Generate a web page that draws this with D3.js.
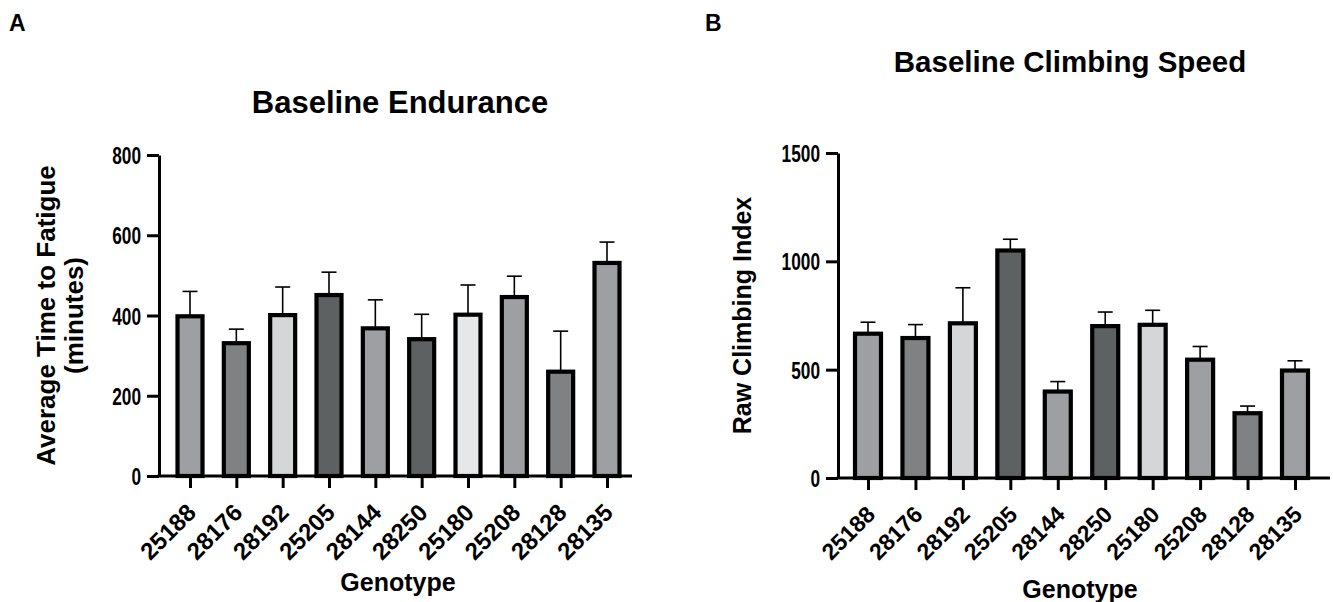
<!DOCTYPE html>
<html>
<head>
<meta charset="utf-8">
<script src="https://cdn.jsdelivr.net/npm/d3@7"></script>
<style>
	body { margin: 0; background: #fff; }
	svg text { font-family: "Liberation Sans", Arial, sans-serif; font-weight: bold; fill: #000; }
</style>
</head>
<body>
<div id="chart"></div>
<script>
// genotypes, same order in both panels
var genotypes = ["25188", "28176", "28192", "25205", "28144", "28250", "25180", "25208", "28128", "28135"];

// panel A: average time to fatigue (minutes), mean and upper error end
var endurance_mean = [398, 331, 401, 451, 368, 341, 402, 446, 260, 531];
var endurance_err = [460, 366, 471, 508, 439, 403, 476, 498, 361, 583];
var endurance_ticks = [0, 200, 400, 600, 800];

// panel B: raw climbing index
var climbing_mean = [666, 646, 714, 1050, 399, 701, 707, 546, 299, 496];
var climbing_err = [719, 708, 878, 1102, 445, 766, 774, 607, 332, 541];
var climbing_ticks = [0, 500, 1000, 1500];

// bar fills
var fills_a = ["#9d9fa2", "#7f8182", "#d4d6d7", "#5e6162", "#9d9fa2", "#5e6162", "#e5e7e8", "#9d9fa2", "#7f8182", "#9d9fa2"];
var fills_b = ["#9d9fa2", "#7f8182", "#d4d6d7", "#5e6162", "#9d9fa2", "#5e6162", "#d4d6d7", "#9d9fa2", "#7f8182", "#9d9fa2"];

var svg = d3.select("#chart").append("svg")
	.attr("width", 1333)
	.attr("height", 602);

function panel(opt) {
	var g = svg.append("g");

	var x = d3.scalePoint()
		.domain(genotypes)
		.range([opt.firstX, opt.lastX]);

	var y = d3.scaleLinear()
		.domain([0, opt.max])
		.range([opt.zeroY, opt.topY]);

	var data = genotypes.map(function (d, i) {
		return { g: d, mean: opt.mean[i], err: opt.err[i], fill: opt.fills[i] };
	});

	// error bars (upper only)
	var eb = g.append("g");
	eb.selectAll("line.stem")
		.data(data).enter().append("line")
		.attr("x1", function (d) { return x(d.g); })
		.attr("x2", function (d) { return x(d.g); })
		.attr("y1", function (d) { return y(d.mean); })
		.attr("y2", function (d) { return y(d.err); })
		.attr("stroke", "#000").attr("stroke-width", 1.6);
	eb.selectAll("line.cap")
		.data(data).enter().append("line")
		.attr("x1", function (d) { return x(d.g) - 7.5; })
		.attr("x2", function (d) { return x(d.g) + 7.5; })
		.attr("y1", function (d) { return y(d.err); })
		.attr("y2", function (d) { return y(d.err); })
		.attr("stroke", "#000").attr("stroke-width", 1.6);

	// bars
	g.append("g").selectAll("rect")
		.data(data).enter().append("rect")
		.attr("x", function (d) { return x(d.g) - opt.barW / 2; })
		.attr("width", opt.barW)
		.attr("y", function (d) { return y(d.mean); })
		.attr("height", function (d) { return y(0) - y(d.mean); })
		.attr("fill", function (d) { return d.fill; })
		.attr("stroke", "#000")
		.attr("stroke-width", 4.2);

	// y axis, tick numbers are narrow and tall in the original
	var ya = g.append("g")
		.attr("transform", "translate(" + opt.axisX + ",0)")
		.call(d3.axisLeft(y).tickValues(opt.ticks).tickSize(12).tickSizeOuter(0).tickFormat(d3.format("d")));
	ya.select(".domain").attr("stroke-width", 3);
	ya.selectAll(".tick line").attr("stroke-width", 3);
	ya.selectAll(".tick text")
		.style("font-size", opt.tickFont + "px")
		.attr("x", 0).attr("dy", "0.36em")
		.attr("transform", "translate(-18,0) scale(0.72,1)");

	// x axis
	var xa = g.append("g")
		.attr("transform", "translate(0," + opt.zeroY + ")")
		.call(d3.axisBottom(x).tickSize(12).tickSizeOuter(0));
	xa.select(".domain").remove();
	xa.append("line")
		.attr("x1", opt.axisX - 1.5).attr("x2", opt.axisEnd)
		.attr("stroke", "#000").attr("stroke-width", 3);
	xa.selectAll(".tick line").attr("stroke-width", 3);
	xa.selectAll(".tick text")
		.style("font-size", opt.xFont + "px")
		.attr("text-anchor", "end")
		.attr("x", 0).attr("y", 0).attr("dy", "0")
		.attr("transform", "translate(" + opt.xLabOff[0] + "," + opt.xLabOff[1] + ") rotate(-45)");

	// titles
	g.append("text")
		.attr("x", opt.titleX).attr("y", opt.titleY)
		.attr("text-anchor", "middle")
		.style("font-size", opt.titleFont + "px")
		.text(opt.title);

	g.append("text")
		.attr("x", opt.genoX).attr("y", opt.genoY)
		.attr("text-anchor", "middle")
		.style("font-size", "25px")
		.text("Genotype");

	var yl = g.append("text")
		.attr("transform", "translate(" + opt.ylabX + "," + (opt.zeroY + opt.topY) / 2 + ") rotate(-90)")
		.attr("text-anchor", "middle")
		.style("font-size", opt.ylabFont + "px");
	opt.ylab.forEach(function (t, i) {
		yl.append("tspan").attr("x", 0).attr("dy", i === 0 ? 0 : "1.06em").text(t);
	});

	g.append("text")
		.attr("x", opt.letterX).attr("y", 31)
		.style("font-size", "23px")
		.text(opt.letter);
}

panel({
	letter: "A", letterX: 9,
	title: "Baseline Endurance", titleX: 400, titleY: 113, titleFont: 31,
	mean: endurance_mean, err: endurance_err, fills: fills_a, ticks: endurance_ticks, max: 800,
	axisX: 159, axisEnd: 632, firstX: 190, lastX: 607, zeroY: 476, topY: 155, barW: 25,
	tickFont: 24, xFont: 24, xLabOff: [7, 38],
	ylab: ["Average Time to Fatigue", "(minutes)"], ylabX: 55, ylabFont: 26,
	genoX: 398, genoY: 591
});

panel({
	letter: "B", letterX: 705,
	title: "Baseline Climbing Speed", titleX: 1070, titleY: 72, titleFont: 29.5,
	mean: climbing_mean, err: climbing_err, fills: fills_b, ticks: climbing_ticks, max: 1500,
	axisX: 838, axisEnd: 1330, firstX: 868, lastX: 1295, zeroY: 478, topY: 153, barW: 26,
	tickFont: 24, xFont: 23, xLabOff: [8, 38],
	ylab: ["Raw Climbing Index"], ylabX: 751, ylabFont: 25,
	genoX: 1080, genoY: 598
});
</script>
</body>
</html>
